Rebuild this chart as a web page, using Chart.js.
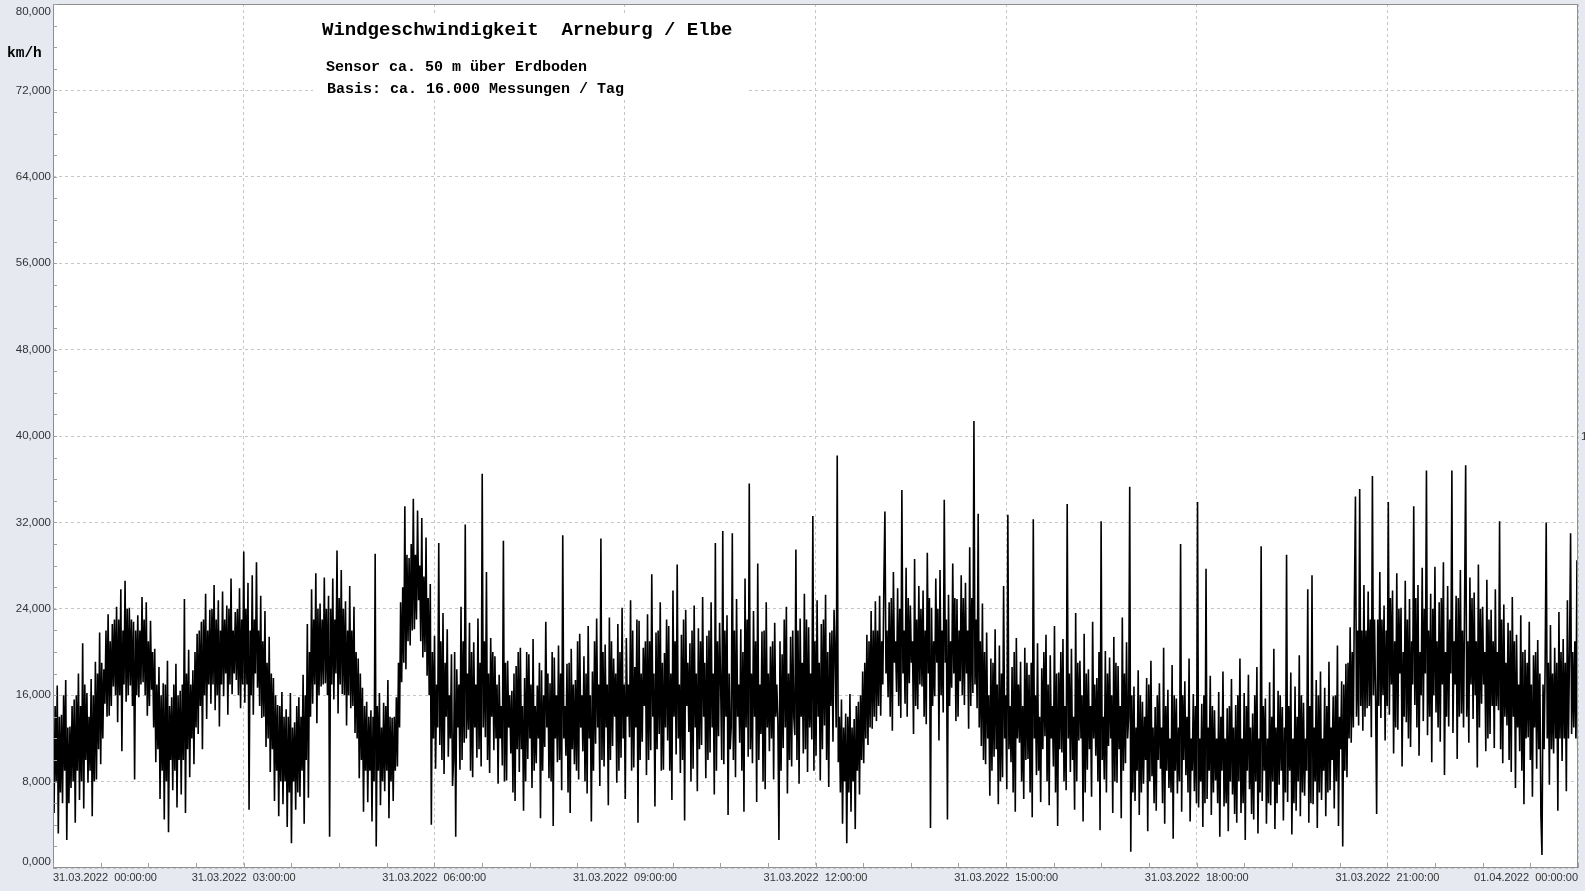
<!DOCTYPE html>
<html>
<head>
<meta charset="utf-8">
<title>Windgeschwindigkeit Arneburg / Elbe</title>
<script src="https://cdn.jsdelivr.net/npm/chart.js@4/dist/chart.umd.min.js"></script>
<style>
  html, body { margin: 0; padding: 0; background: #e6e9f0; }
</style>
</head>
<body>
<canvas id="wind" width="1585" height="891"></canvas>
<script>
// Windgeschwindigkeit in km/h, 1-Minuten-Raster
// (je Zeile 20 Minuten)
const speed00to03 = [
  12.8, 5.1, 15, 8, 16.9, 3.2, 14, 7, 14.2, 6.0, 16, 9, 17.4, 2.6, 13, 6, 13.1, 7.4, 15, 8,
  15.6, 4.2, 16, 9, 18.0, 6.3, 15, 8, 20.8, 5.5, 17, 10, 16.2, 7.9, 14, 9, 17.5, 4.8, 16, 8,
  19.1, 8.2, 18, 11, 21.8, 9.6, 19, 12, 18.4, 15.2, 22, 14, 23.5, 14.1, 21, 15, 22.6, 16.8, 23, 16,
  24.2, 13.5, 23, 16, 25.8, 10.8, 22, 17, 26.6, 15.4, 24, 16, 24.1, 16.9, 23, 15, 22.8, 8.2, 22, 16,
  23.4, 15.8, 22, 17, 25.1, 17.2, 23, 16, 24.6, 14.1, 21, 15, 22.9, 16.5, 20, 13, 20.3, 9.8, 17, 11,
  18.6, 6.4, 16, 9, 17.1, 4.5, 17, 8, 19.2, 3.3, 15, 10, 15.8, 7.2, 17, 9, 18.9, 5.6, 16, 10,
  16.4, 6.8, 17, 10, 24.9, 5.1, 18, 11, 20.2, 8.4, 17, 12, 18.3, 9.6, 20, 13, 21.7, 12.4, 22, 15,
  22.8, 11.0, 23, 16, 25.4, 13.8, 22, 17, 23.9, 15.2, 24, 17, 26.2, 14.6, 23, 16, 24.8, 13.1, 22, 17,
  25.6, 15.9, 23, 18, 24.3, 14.2, 24, 17, 26.8, 16.1, 22, 18, 23.7, 17.4, 24, 16, 25.9, 14.8, 23, 17
];
const speed03to06 = [
  29.3, 15.3, 24, 17, 26.4, 5.4, 22, 16, 27.1, 14.2, 23, 18, 28.3, 16.7, 22, 15, 25.2, 13.9, 21, 14,
  23.8, 11.2, 19, 12, 21.4, 8.9, 18, 11, 17.6, 6.2, 16, 9, 15.1, 4.8, 15, 8, 16.3, 5.9, 14, 8,
  14.7, 3.8, 14, 7, 16.2, 2.3, 13, 8, 13.5, 5.4, 15, 7, 15.8, 6.6, 14, 9, 17.9, 4.1, 16, 10,
  22.6, 6.5, 20, 14, 25.8, 15.2, 23, 17, 27.3, 13.4, 24, 16, 24.5, 16.8, 23, 17, 26.9, 17.1, 24, 16,
  25.2, 2.9, 24, 17, 26.8, 15.6, 23, 18, 29.4, 14.3, 25, 17, 27.6, 16.1, 24, 16, 24.7, 13.2, 22, 16,
  26.1, 14.8, 22, 15, 24.2, 12.5, 20, 12, 19.4, 8.3, 18, 10, 16.7, 5.2, 15, 9, 15.4, 6.1, 14, 9,
  14.6, 4.3, 14, 8, 29.1, 2.0, 15, 9, 16.2, 5.8, 13, 8, 15.3, 7.1, 15, 9, 17.4, 4.6, 14, 8,
  13.9, 6.2, 14, 9, 15.8, 9.4, 19, 13, 24.6, 17.2, 26, 19, 33.5, 18.4, 29, 21, 28.7, 20.6, 30, 22,
  34.2, 22.1, 29, 23, 33.1, 24.8, 28, 21, 32.4, 19.5, 27, 20, 30.6, 17.8, 25, 16, 26.3, 4.0, 20, 12
];
const speed06to09 = [
  21.5, 9.2, 17, 13, 30.1, 11.4, 21, 10, 23.6, 8.7, 19, 14, 22.1, 10.3, 16, 12, 19.8, 7.6, 10, 20,
  2.9, 18.4, 13, 17, 9.1, 24.2, 10, 21, 11.6, 31.8, 12, 18, 12.8, 22.7, 9, 20, 8.4, 20.9, 13, 17,
  10.2, 23.1, 11, 19, 9.4, 36.5, 13, 21, 12.1, 27.4, 10, 18, 8.8, 21.3, 14, 20, 10.9, 19.6, 12, 17,
  7.8, 17.9, 12, 15, 9.5, 30.3, 8, 19, 8.1, 19.2, 13, 16, 10.6, 16.4, 7, 18, 6.2, 18.7, 11, 20,
  8.9, 20.4, 11, 15, 5.3, 17.6, 8, 20, 10.1, 19.8, 12, 17, 7.4, 21.2, 9, 15, 9.7, 16.9, 12, 19,
  4.6, 18.3, 9, 16, 11.2, 22.8, 13, 18, 8.3, 17.1, 8, 20, 3.9, 19.5, 12, 16, 9.8, 20.6, 10, 18,
  7.2, 30.8, 12, 15, 10.4, 18.9, 7, 19, 5.1, 20.3, 11, 17, 9.6, 17.4, 9, 21, 8.2, 21.7, 13, 16,
  10.8, 19.6, 8, 18, 6.9, 22.4, 12, 16, 4.3, 18.2, 9, 21, 11.5, 23.1, 13, 17, 7.6, 30.5, 10, 20,
  9.4, 20.7, 13, 17, 5.8, 23.2, 10, 21, 11.3, 19.4, 14, 18, 7.9, 22.6, 9, 20, 10.2, 24.1, 12, 17
];
const speed09to12 = [
  6.4, 21.3, 14, 17, 12.1, 24.8, 9, 22, 9.3, 18.6, 13, 23, 4.2, 22.9, 10, 18, 11.7, 20.4, 15, 21,
  8.6, 23.5, 10, 21, 10.9, 27.2, 14, 18, 5.7, 21.8, 11, 22, 12.4, 24.6, 9, 19, 9.1, 19.9, 13, 23,
  11.8, 22.4, 9, 18, 6.3, 25.7, 14, 21, 10.5, 28.1, 12, 17, 8.8, 21.6, 10, 23, 4.4, 23.9, 15, 19,
  12.6, 20.8, 8, 22, 9.2, 24.3, 13, 18, 7.1, 22.2, 11, 21, 11.4, 25.1, 14, 19, 8.3, 21.5, 10, 22,
  10.7, 24.6, 13, 18, 6.8, 30.1, 9, 21, 12.2, 22.7, 17, 10, 31.2, 9.6, 22, 14, 23.4, 4.9, 18, 11,
  13.1, 31.0, 10, 22, 8.4, 24.9, 14, 17, 11.6, 22.1, 9, 20, 5.2, 26.8, 13, 23, 10.3, 35.6, 11, 18,
  9.7, 23.8, 14, 21, 6.1, 28.2, 10, 17, 12.4, 21.9, 8, 22, 7.3, 24.6, 13, 18, 10.8, 20.5, 12, 21,
  8.2, 22.7, 14, 17, 13.5, 2.6, 21, 9, 19.8, 11.1, 23, 13, 24.2, 6.9, 18, 10, 21.4, 9.4, 22, 14,
  12.3, 29.5, 10, 22, 7.8, 23.1, 14, 19, 10.6, 25.4, 11, 23, 8.9, 22.3, 13, 18, 11.9, 32.6, 9, 21
];
const speed12to15 = [
  10.4, 24.8, 14, 19, 8.1, 22.6, 11, 23, 13.2, 25.3, 10, 20, 7.5, 21.8, 15, 22, 11.7, 23.9, 20, 13,
  38.2, 9.8, 14, 7, 15.6, 4.1, 13, 8, 14.3, 2.3, 14, 7, 16.1, 5.2, 13, 8, 13.8, 3.6, 15, 9,
  15.4, 6.8, 16, 10, 18.2, 9.7, 19, 12, 21.6, 11.4, 21, 13, 23.8, 12.9, 22, 14, 24.7, 13.6, 22, 15,
  25.2, 14.1, 21, 17, 26.3, 33.0, 18, 22, 15.8, 24.6, 14, 25, 12.7, 27.4, 19, 21, 16.3, 25.9, 15, 24,
  13.9, 35.0, 18, 22, 15.2, 27.8, 14, 25, 17.1, 24.3, 19, 21, 12.4, 28.6, 15, 23, 14.7, 26.1, 17, 24,
  16.8, 25.7, 14, 22, 13.3, 29.2, 18, 25, 3.7, 24.1, 15, 21, 15.9, 26.8, 19, 24, 11.8, 27.6, 16, 22,
  14.4, 34.1, 19, 23, 4.5, 25.3, 15, 21, 16.7, 28.2, 18, 25, 13.6, 24.9, 14, 22, 17.3, 27.1, 16, 25,
  15.1, 26.4, 18, 22, 12.9, 29.7, 15, 25, 16.2, 41.4, 17, 23, 14.8, 32.8, 13, 21, 11.3, 24.5, 10, 20,
  9.6, 21.8, 12, 16, 6.7, 19.4, 9, 19, 10.3, 22.1, 11, 17, 5.9, 20.6, 8, 18, 8.4, 26.1, 12, 16
];
const speed15to18 = [
  7.3, 32.7, 11, 15, 9.8, 18.6, 7, 20, 5.2, 21.3, 12, 17, 11.6, 19.1, 8, 15, 6.4, 20.4, 10, 19,
  10.1, 17.9, 7, 19, 4.7, 32.3, 12, 16, 8.6, 20.8, 9, 14, 6.1, 18.5, 11, 20, 12.2, 21.6, 8, 17,
  5.8, 19.7, 12, 15, 9.4, 22.4, 7, 18, 3.9, 18.1, 11, 20, 10.7, 21.2, 8, 15, 7.2, 33.7, 12, 18,
  8.9, 20.3, 10, 14, 5.4, 23.6, 8, 19, 11.8, 19.2, 12, 16, 4.3, 21.7, 7, 18, 9.1, 18.4, 11, 15,
  6.6, 22.8, 12, 17, 10.4, 17.6, 8, 20, 3.5, 32.1, 10, 14, 8.2, 20.1, 7, 18, 11.3, 19.5, 12, 16,
  5.1, 21.4, 8, 19, 7.9, 18.7, 11, 15, 4.6, 23.2, 9, 18, 9.7, 20.9, 12, 14, 35.3, 1.5, 16, 7,
  16.8, 6.2, 13, 9, 18.3, 4.9, 16, 7, 15.4, 7.8, 14, 10, 17.6, 3.4, 17, 8, 19.2, 8.5, 13, 6,
  14.9, 5.3, 16, 10, 17.1, 9.2, 13, 6, 20.4, 4.1, 15, 9, 16.5, 7.4, 12, 7, 18.8, 2.7, 16, 9,
  15.7, 6.9, 13, 8, 30.0, 5.2, 16, 10, 17.3, 8.6, 14, 7, 19.4, 4.3, 12, 9, 16.1, 7.1, 15, 6
];
const speed18to21 = [
  33.9, 5.6, 12, 8, 15.2, 3.8, 16, 6, 27.7, 6.4, 13, 9, 17.8, 4.9, 15, 7, 14.6, 8.1, 12, 6,
  16.3, 2.9, 14, 9, 18.2, 5.7, 12, 6, 14.8, 3.4, 15, 8, 17.5, 6.8, 13, 5, 15.1, 4.2, 16, 8,
  19.4, 5.1, 12, 6, 16.2, 2.6, 15, 9, 17.9, 7.3, 13, 5, 14.3, 4.5, 16, 8, 18.6, 3.2, 12, 7,
  29.8, 6.2, 15, 9, 15.7, 4.1, 12, 6, 17.2, 5.8, 14, 8, 20.3, 3.6, 13, 6, 16.4, 7.7, 16, 9,
  14.9, 4.4, 13, 7, 29.0, 6.1, 15, 9, 18.1, 3.1, 12, 6, 16.8, 5.3, 14, 8, 19.7, 4.8, 16, 7,
  15.3, 6.7, 12, 9, 25.8, 4.2, 15, 6, 27.1, 5.9, 13, 8, 17.4, 3.7, 16, 7, 18.2, 6.3, 12, 9,
  16.7, 4.8, 15, 7, 19.1, 7.2, 13, 10, 15.9, 5.5, 16, 8, 20.6, 3.9, 14, 11, 17.3, 2.0, 17, 9,
  18.9, 8.4, 19, 12, 22.3, 11.6, 20, 13, 24.8, 34.4, 14, 22, 13.2, 35.1, 15, 22, 12.7, 26.2, 14, 22,
  14.8, 25.6, 15, 23, 12.1, 36.3, 16, 23, 15.7, 5.0, 23, 15, 27.4, 13.9, 23, 16, 24.3, 11.8, 22, 15
];
const speed21to24 = [
  33.9, 14.2, 25, 17, 25.7, 10.6, 21, 13, 27.3, 12.8, 24, 18, 24.1, 9.4, 20, 14, 26.6, 13.5, 23, 12,
  24.9, 11.2, 21, 17, 33.5, 15.1, 25, 13, 26.2, 10.4, 20, 16, 27.8, 13.6, 24, 18, 36.8, 12.3, 22, 14,
  25.4, 9.8, 24, 16, 27.9, 14.4, 21, 13, 24.6, 11.7, 25, 17, 28.3, 8.6, 20, 14, 26.1, 13.1, 23, 18,
  36.8, 12.5, 21, 17, 25.2, 10.1, 25, 14, 27.6, 14.3, 22, 13, 24.8, 37.3, 14, 21, 11.6, 26.9, 17, 25,
  13.8, 25.5, 16, 21, 9.3, 28.1, 13, 24, 15.2, 24.2, 17, 20, 10.8, 26.7, 12, 23, 12.4, 23.9, 15, 21,
  11.1, 25.8, 15, 20, 14.6, 32.1, 11, 23, 9.7, 24.4, 14, 19, 13.2, 22.7, 10, 22, 8.9, 25.1, 14, 21,
  7.4, 21.6, 13, 17, 10.8, 23.4, 9, 20, 5.9, 20.2, 12, 19, 12.1, 22.8, 10, 17, 6.6, 19.7, 13, 20,
  9.2, 21.1, 11, 18, 4.8, 1.2, 17, 11, 18.9, 32.0, 12, 19, 7.7, 22.5, 11, 18, 10.6, 20.4, 12, 19,
  5.3, 23.7, 12, 20, 9.9, 21.2, 12, 19, 7.1, 24.8, 12, 20, 31.0, 12.4, 20, 13, 21, 12, 28.5, 6.2
];

const xTickLabels = [
  '31.03.2022  00:00:00', '31.03.2022  03:00:00', '31.03.2022  06:00:00',
  '31.03.2022  09:00:00', '31.03.2022  12:00:00', '31.03.2022  15:00:00',
  '31.03.2022  18:00:00', '31.03.2022  21:00:00', '01.04.2022  00:00:00'
];
const yTickValues = [0, 8, 16, 24, 32, 40, 48, 56, 64, 72, 80];

const titleText = 'Windgeschwindigkeit  Arneburg / Elbe';
const subText1 = 'Sensor ca. 50 m über Erdboden';
const subText2 = 'Basis: ca. 16.000 Messungen / Tag';

// Zeitachse in Stunden (0 = 31.03.2022 00:00)
const allSpeeds = [
  ...speed00to03, ...speed03to06, ...speed06to09, ...speed09to12,
  ...speed12to15, ...speed15to18, ...speed18to21, ...speed21to24
];
const hourStep = 24 / (allSpeeds.length - 1);
const points = allSpeeds.map((v, i) => ({ x: i * hourStep, y: v }));

const fmtY = v => v.toFixed(3).replace('.', ',');

const framePlugin = {
  id: 'frame',
  beforeDraw(chart) {
    const { ctx, chartArea: a } = chart;
    ctx.save();
    ctx.fillStyle = '#e6e9f0';
    ctx.fillRect(0, 0, chart.width, chart.height);
    ctx.fillStyle = '#ffffff';
    ctx.fillRect(a.left, a.top, a.right - a.left, a.bottom - a.top);
    ctx.restore();
  },
  afterDraw(chart) {
    const { ctx, chartArea: a, scales: { x, y } } = chart;
    ctx.save();

    // Rahmen
    ctx.strokeStyle = '#8e8e8e';
    ctx.lineWidth = 1;
    ctx.strokeRect(a.left + 0.5, a.top + 0.5, a.right - a.left - 1, a.bottom - a.top - 1);

    // kleine Teilstriche
    ctx.strokeStyle = '#a0a0a0';
    ctx.beginPath();
    for (let v = 0; v <= 80; v += 2) {
      const py = Math.round(y.getPixelForValue(v)) + 0.5;
      ctx.moveTo(a.left, py);
      ctx.lineTo(a.left + 4, py);
    }
    for (let h = 0; h <= 24; h += 0.75) {
      const px = Math.round(x.getPixelForValue(h)) + 0.5;
      ctx.moveTo(px, a.bottom);
      ctx.lineTo(px, a.bottom - 5);
    }
    ctx.stroke();

    // y-Beschriftung
    ctx.fillStyle = '#333333';
    ctx.font = '11.5px "Liberation Sans", Arial, sans-serif';
    ctx.textAlign = 'right';
    ctx.textBaseline = 'middle';
    yTickValues.forEach(v => {
      let py = y.getPixelForValue(v);
      if (v === 80) py += 8;
      if (v === 0) py -= 6;
      ctx.fillText(fmtY(v), a.left - 2, py);
    });
    ctx.textAlign = 'left';
    ctx.fillText('1', a.right + 3, y.getPixelForValue(40) + 1);

    // x-Beschriftung
    ctx.font = '11px "Liberation Sans", Arial, sans-serif';
    xTickLabels.forEach((lbl, i) => {
      const px = x.getPixelForValue(i * 3);
      ctx.textAlign = i === 0 ? 'left' : (i === xTickLabels.length - 1 ? 'right' : 'center');
      ctx.fillText(lbl, px, a.bottom + 10);
    });

    // Einheit
    ctx.fillStyle = '#000000';
    ctx.textAlign = 'left';
    ctx.font = 'bold 14.5px "Liberation Mono", "Courier New", monospace';
    ctx.fillText('km/h', 7, 53);

    // Titelkasten
    ctx.fillStyle = '#ffffff';
    ctx.fillRect(313, 13, 435, 84);
    ctx.fillStyle = '#000000';
    ctx.textBaseline = 'alphabetic';
    ctx.font = 'bold 19px "Liberation Mono", "Courier New", monospace';
    ctx.fillText(titleText, 322, 35);
    ctx.font = 'bold 15px "Liberation Mono", "Courier New", monospace';
    ctx.fillText(subText1, 326, 71);
    ctx.fillText(subText2, 327, 93);

    ctx.restore();
  }
};

new Chart(document.getElementById('wind'), {
  type: 'line',
  data: {
    datasets: [{
      label: 'Windgeschwindigkeit',
      data: points,
      borderColor: '#000000',
      borderWidth: 1.6,
      pointRadius: 0,
      tension: 0,
      fill: false
    }]
  },
  options: {
    responsive: false,
    animation: false,
    parsing: false,
    normalized: true,
    layout: { padding: { left: 53, top: 4, right: 7, bottom: 23 } },
    plugins: { legend: { display: false }, tooltip: { enabled: false }, title: { display: false } },
    scales: {
      x: {
        type: 'linear',
        min: 0,
        max: 24,
        ticks: { display: false, stepSize: 3 },
        grid: { color: '#c6c6c6', drawTicks: false, lineWidth: 1 },
        border: { display: false, dash: [3, 3] }
      },
      y: {
        min: 0,
        max: 80,
        ticks: { display: false, stepSize: 8 },
        grid: { color: '#c6c6c6', drawTicks: false, lineWidth: 1 },
        border: { display: false, dash: [3, 3] }
      }
    }
  },
  plugins: [framePlugin]
});
</script>
</body>
</html>
